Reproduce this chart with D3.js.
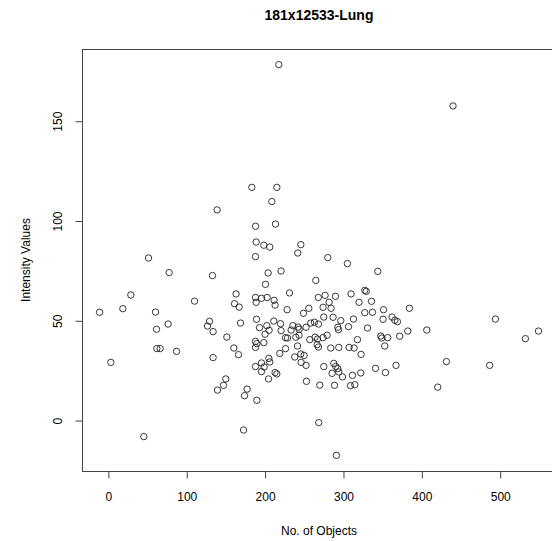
<!DOCTYPE html>
<html>
<head>
<meta charset="utf-8">
<script src="https://cdn.jsdelivr.net/npm/d3@7"></script>
<style>
  body { margin: 0; background: #fff; }
  text { font-family: "Liberation Sans", Arial, Helvetica, sans-serif; fill: #000; }
</style>
</head>
<body>
<div id="chart"></div>
<script>
/***********************************************/
//                 CHART DATA                  //
/***********************************************/

const title = "181x12533-Lung";
const xLabel = "No. of Objects";
const yLabel = "Intensity Values";

const xTicks = [0, 100, 200, 300, 400, 500];
const yTicks = [0, 50, 100, 150];

// number of objects per sample
const objects = [
  218.1, 183.7, 215.6, 209.2, 139.4, 188.4, 213.9, 440.4, 51.9, 189.2,
  199.0, 206.6, 246.2, 242.3, 188.4, 78.2, 133.5, 204.5, 221.0, 265.3,
  201.1, 29.3, 163.6, 231.8, 268.5, -10.6, 19.1, 60.8, 110.6, 161.6,
  167.5, 188.4, 196.0, 203.2, 212.1, 213.4, 189.2, 228.7, 256.4, 249.6,
  62.1, 76.9, 129.7, 127.2, 134.3, 169.3, 189.7, 193.5, 202.8, 205.7,
  211.7, 200.6, 220.3, 221.0, 226.7, 229.2, 233.8, 236.0, 242.7, 244.0,
  239.8, 244.0, 252.9, 258.9, 263.6, 268.7, 257.7, 264.4, 267.0, 151.8,
  160.7, 166.7, 188.4, 190.1, 188.4, 199.0, 226.7, 219.4, 242.0, 238.5,
  246.2, 250.4, 246.6, 252.9, 62.5, 66.7, 87.6, 3.8, 134.3, 188.4,
  196.0, 205.4, 206.6, 199.4, 196.0, 213.4, 215.6, 205.0, 150.5, 147.6,
  139.9, 177.7, 174.4, 190.1, 253.4, 270.4, 269.1, 173.1, 45.9, 280.6,
  305.7, 344.4, 327.8, 329.7, 310.3, 277.2, 290.4, 282.3, 320.5, 336.4,
  274.6, 284.8, 327.8, 337.6, 351.7, 384.8, 275.5, 287.4, 297.2, 313.4,
  351.1, 362.6, 366.1, 369.5, 494.5, 293.4, 294.3, 307.0, 331.3, 382.7,
  406.9, 532.8, 549.4, 267.5, 274.6, 279.7, 318.5, 348.2, 349.5, 357.1,
  372.4, 268.7, 284.4, 294.6, 307.8, 314.2, 353.3, 323.1, 275.5, 288.3,
  290.8, 293.4, 286.1, 294.6, 299.4, 312.1, 322.7, 341.5, 354.2, 367.7,
  432.0, 487.2, 289.2, 309.6, 315.1, 420.9, 291.6
];

// intensity value per sample
const intensity = [
  178.1, 116.6, 116.6, 109.5, 105.3, 97.1, 98.2, 157.4, 81.2, 89.2,
  87.6, 86.7, 87.9, 83.7, 81.9, 73.9, 72.4, 73.7, 74.7, 70.0,
  68.0, 62.7, 63.2, 63.7, 61.4, 54.0, 55.8, 54.1, 59.6, 58.3,
  56.6, 61.4, 61.0, 61.4, 60.0, 57.6, 59.0, 55.3, 56.0, 53.5,
  45.5, 48.1, 49.5, 47.1, 44.3, 48.6, 50.5, 46.3, 47.3, 45.0,
  49.6, 43.0, 48.3, 44.8, 41.3, 41.1, 45.1, 47.3, 46.6, 45.5,
  41.5, 42.5, 46.5, 48.6, 49.0, 48.1, 40.3, 41.5, 37.8, 41.6,
  36.1, 32.8, 39.4, 38.3, 36.4, 38.8, 35.8, 33.4, 37.1, 31.6,
  33.1, 32.4, 28.9, 27.4, 35.8, 35.8, 34.4, 28.9, 31.3, 26.8,
  28.6, 30.9, 29.1, 26.6, 24.3, 23.8, 23.1, 20.6, 20.6, 17.4,
  15.0, 15.5, 12.2, 9.9, 19.4, 17.5, -1.3, -5.0, -8.3, 81.4,
  78.4, 74.5, 65.0, 64.5, 63.2, 62.5, 62.0, 59.0, 59.0, 59.5,
  56.5, 56.0, 53.8, 54.0, 55.3, 56.0, 51.6, 51.5, 49.8, 50.6,
  50.5, 51.6, 50.0, 49.3, 50.6, 46.5, 45.3, 46.8, 46.1, 44.6,
  45.1, 40.8, 44.6, 40.6, 41.3, 42.5, 40.3, 42.1, 41.1, 41.3,
  42.0, 36.6, 36.1, 36.4, 36.4, 36.1, 37.1, 32.9, 26.8, 28.4,
  26.9, 25.8, 23.4, 24.1, 21.6, 22.4, 23.6, 25.9, 23.8, 27.4,
  29.3, 27.4, 17.4, 17.2, 17.7, 16.5, -17.7
];

/***********************************************/
//                 LAYOUT                      //
/***********************************************/

const width = 552,
    height = 541;

// plot region (right edge falls just outside the picture)
const plot = { left: 82, right: 556, top: 49, bottom: 471 };

const svg = d3.select("#chart")
  .append("svg")
    .attr("width", width)
    .attr("height", height);

// R style axis ranges: data extent stretched by 4% each side
function padded(values) {
  const [lo, hi] = d3.extent(values);
  const ext = (hi - lo) * 0.04;
  return [lo - ext, hi + ext];
}

const x = d3.scaleLinear()
    .domain(padded(objects))
    .range([plot.left, plot.right]);

const y = d3.scaleLinear()
    .domain(padded(intensity))
    .range([plot.bottom, plot.top]);

// box round the plot region
svg.append("rect")
    .attr("x", plot.left + 0.5)
    .attr("y", plot.top + 0.5)
    .attr("width", plot.right - plot.left)
    .attr("height", plot.bottom - plot.top)
    .attr("fill", "none")
    .attr("stroke", "#444")
    .attr("stroke-width", 1);

/***********************************************/
//                 AXES                        //
/***********************************************/

const xAxis = d3.axisBottom(x)
    .tickValues(xTicks)
    .tickSize(7)
    .tickPadding(14)
    .tickSizeOuter(0);

const gx = svg.append("g")
    .attr("transform", `translate(0.5, ${plot.bottom + 0.5})`)
    .call(xAxis);

gx.select(".domain")
    .attr("d", `M${x(xTicks[0])},0H${x(xTicks[xTicks.length - 1])}`)
    .attr("stroke", "#444");
gx.selectAll(".tick line").attr("stroke", "#444");
gx.selectAll(".tick text")
    .style("font-size", "12px")
    .style("font-family", "Liberation Sans, Arial, sans-serif");

const yAxis = d3.axisLeft(y)
    .tickValues(yTicks)
    .tickSize(7)
    .tickSizeOuter(0);

const gy = svg.append("g")
    .attr("transform", `translate(${plot.left + 0.5}, 0.5)`)
    .call(yAxis);

gy.select(".domain")
    .attr("d", `M0,${y(yTicks[0])}V${y(yTicks[yTicks.length - 1])}`)
    .attr("stroke", "#444");
gy.selectAll(".tick line").attr("stroke", "#444");
// y labels run parallel to the axis, like R's las = 0
gy.selectAll(".tick text")
    .attr("x", null)
    .attr("dy", null)
    .attr("transform", "translate(-21, 0) rotate(-90)")
    .attr("text-anchor", "middle")
    .style("font-size", "12px")
    .style("font-family", "Liberation Sans, Arial, sans-serif");

/***********************************************/
//                 POINTS                      //
/***********************************************/

const points = objects.map((d, i) => [d, intensity[i]]);

svg.append("g")
  .selectAll("circle")
  .data(points)
  .join("circle")
    .attr("cx", d => x(d[0]))
    .attr("cy", d => y(d[1]))
    .attr("r", 3.2)
    .attr("fill", "none")
    .attr("stroke", "#222")
    .attr("stroke-width", 0.9);

/***********************************************/
//                 TITLES                      //
/***********************************************/

const midX = (plot.left + plot.right) / 2,
    midY = (plot.top + plot.bottom) / 2;

svg.append("text")
    .attr("x", midX)
    .attr("y", 20)
    .attr("text-anchor", "middle")
    .style("font-size", "14px")
    .style("font-weight", "bold")
    .text(title);

svg.append("text")
    .attr("x", midX)
    .attr("y", 535)
    .attr("text-anchor", "middle")
    .style("font-size", "12px")
    .text(xLabel);

svg.append("text")
    .attr("transform", `translate(30, ${midY}) rotate(-90)`)
    .attr("text-anchor", "middle")
    .style("font-size", "12px")
    .text(yLabel);
</script>
</body>
</html>
